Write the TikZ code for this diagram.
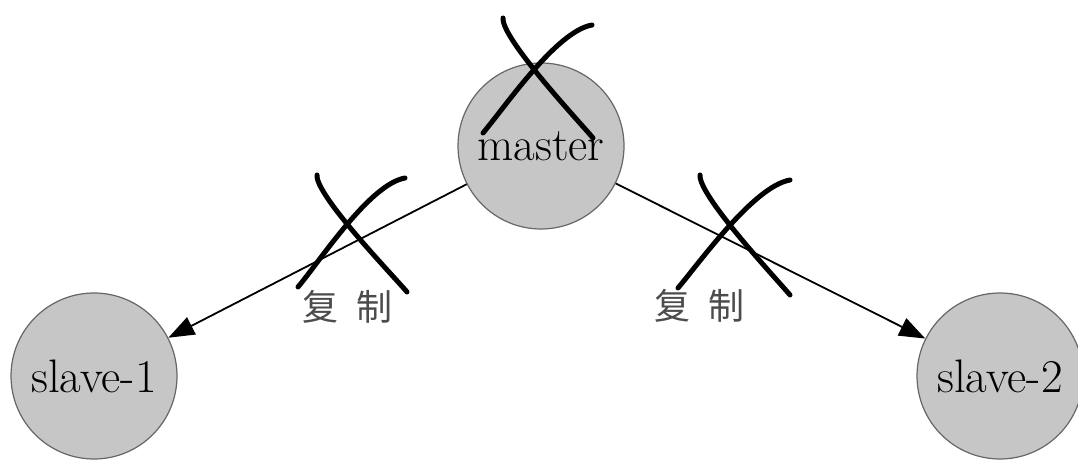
\documentclass[tikz,border=0pt]{standalone}
\usepackage{fontspec}
\newfontfamily\cjk{Noto Sans CJK SC}
\usetikzlibrary{positioning, arrows.meta}

\begin{document}
\begin{tikzpicture}[
    x=1pt, y=1pt,
    >={Triangle[length=26pt,width=19pt]},
    every node/.style={font=\fontsize{47}{52}\selectfont},
    server/.style={
        draw=gray!80!black,
        fill=gray!45,
        circle,
        line width=1.2pt,
        minimum size=166pt,
        inner sep=0pt
    },
    copylabel/.style={
        font=\cjk\fontsize{36}{40}\selectfont,
        text=black!70
    },
    strike/.style={line width=5pt, line cap=round}
]
\useasboundingbox (0,0) rectangle (1078,465);

% servers
\node[server] (master) at (541,319) {master};
\node[server] (slave1) at (94,89) {slave-1};
\node[server] (slave2) at (1000,89) {slave-2};

% replication
\path[->, line width=1.8pt]
(master) edge node[copylabel, pos=0.4, below=40pt] {复\kern18pt 制} (slave1)
(master) edge node[copylabel, pos=0.27, below=60pt] {复\kern18pt 制} (slave2);

% crossed out
\draw[strike] (503,447) to[out=-95,in=130,looseness=0.35] (593,327);
\draw[strike] (592,440) to[out=190,in=50,looseness=0.6] (483,332);
\draw[strike] (317,290) to[out=-95,in=130,looseness=0.35] (407,173);
\draw[strike] (405,287) to[out=190,in=50,looseness=0.6] (298,178);
\draw[strike] (700,290) to[out=-95,in=130,looseness=0.35] (790,170);
\draw[strike] (790,285) to[out=190,in=50,looseness=0.6] (678,177);
\end{tikzpicture}
\end{document}
